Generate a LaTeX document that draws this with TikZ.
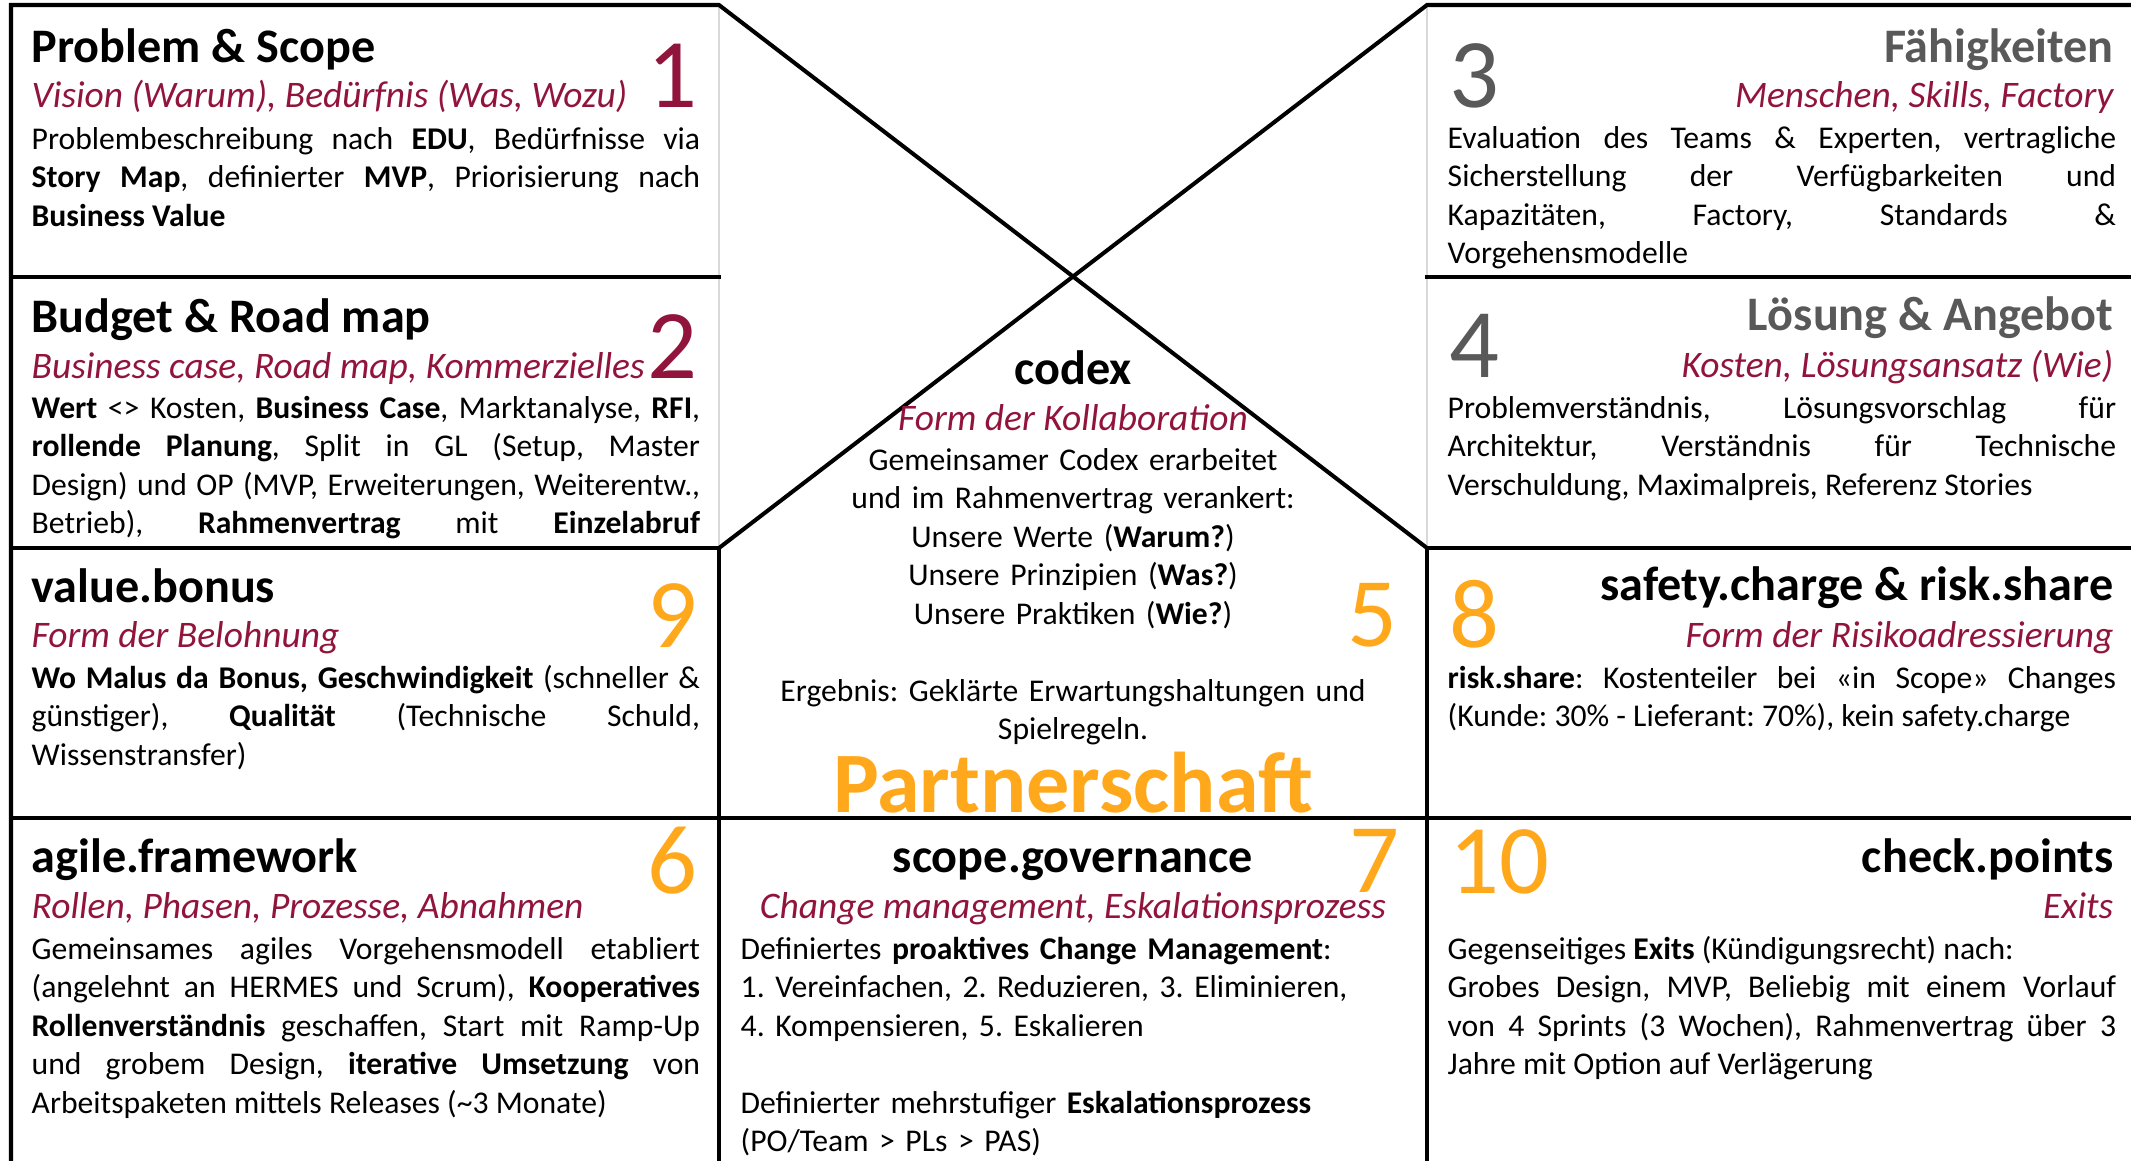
\documentclass[tikz,border=0pt]{standalone}
\usepackage{fontspec}
\setmainfont{Carlito}
\usetikzlibrary{positioning}
\definecolor{wine}{RGB}{145,20,60}
\definecolor{amber}{RGB}{255,168,28}
\definecolor{slate}{RGB}{89,89,89}
\frenchspacing

\begin{document}
\begin{tikzpicture}[
      x=0.01cm, y=-0.01cm,
      frame/.style = {line width=1.15pt, line cap=rect},
      hair/.style = {draw=black!15, line width=0.4pt},
      ttl/.style = {inner sep=0, font=\fontsize{13.7}{16}\selectfont\bfseries},
      sub/.style = {inner sep=0, text=wine, font=\fontsize{10.65}{13}\selectfont\itshape},
      txt/.style = {inner sep=0, text width=6.68cm, align=justify,
          font=\fontsize{9}{10.95}\selectfont},
      num/.style = {inner sep=0, font=\fontsize{28}{30}\selectfont},
    ]
    \useasboundingbox (0,0) rectangle (2131,1160);

    % grid
    \draw[hair] (719,5) -- (719,548);
    \draw[hair] (1427,5) -- (1427,548);
    \draw[frame] (11,1160) -- (11,5) -- (719,5) -- (1427,548);
    \draw[frame] (2131,5) -- (1427,5) -- (719,548);
    \draw[frame] (11,277) -- (719,277);
    \draw[frame] (1427,277) -- (2131,277);
    \draw[frame] (11,548) -- (719,548);
    \draw[frame] (1427,548) -- (2131,548);
    \draw[frame] (11,818) -- (2131,818);
    \draw[frame] (719,548) -- (719,1160);
    \draw[frame] (1427,548) -- (1427,1160);

    % left column
    \node[ttl, anchor=base west] (scope) at (31,62) {Problem \& Scope};
    \node[sub, anchor=base west] (scopesub) at (31,107) {Vision (Warum), Bedürfnis (Was, Wozu)};
    \node[num, text=wine, anchor=base east] (n1) at (698,107) {1};
    \node[txt, anchor=base west] (scopetxt) at (31,149) {%
      Problembeschreibung nach \textbf{EDU}, Bedürfnisse via\linebreak
      \textbf{Story Map}, definierter \textbf{MVP}, Priorisierung nach\linebreak
      \textbf{Business Value}};

    \node[ttl, anchor=base west] (budget) at (31,332) {Budget \& Road map};
    \node[sub, anchor=base west] (budgetsub) at (31,378) {Business case, Road map, Kommerzielles};
    \node[num, text=wine, anchor=base east] (n2) at (698,378) {2};
    \node[txt, anchor=base west] (budgettxt) at (31,418) {%
      \textbf{Wert} <> Kosten, \textbf{Business Case}, Marktanalyse, \textbf{RFI},\linebreak
      \textbf{rollende Planung}, Split in GL (Setup, Master\linebreak
      Design) und OP (MVP, Erweiterungen, Weiterentw.,\linebreak
      Betrieb), \textbf{Rahmenvertrag} mit \textbf{Einzelabruf}\linebreak\null};

    \node[ttl, anchor=base west] (bonus) at (31,602) {value.bonus};
    \node[sub, anchor=base west] (bonussub) at (31,647) {Form der Belohnung};
    \node[num, text=amber, anchor=base east] (n9) at (698,647) {9};
    \node[txt, anchor=base west] (bonustxt) at (31,688) {%
      \textbf{Wo Malus da Bonus, Geschwindigkeit} (schneller \&\linebreak
      günstiger), \textbf{Qualität} (Technische Schuld,\linebreak
      Wissenstransfer)};

    \node[ttl, anchor=base west] (agile) at (31,872) {agile.framework};
    \node[sub, anchor=base west] (agilesub) at (31,918) {Rollen, Phasen, Prozesse, Abnahmen};
    \node[num, text=amber, anchor=base east] (n6) at (698,893) {6};
    \node[txt, anchor=base west] (agiletxt) at (31,959) {%
      Gemeinsames agiles Vorgehensmodell etabliert\linebreak
      (angelehnt an HERMES und Scrum), \textbf{Kooperatives}\linebreak
      \textbf{Rollenverständnis} geschaffen, Start mit Ramp-Up\linebreak
      und grobem Design, \textbf{iterative Umsetzung} von\linebreak
      Arbeitspaketen mittels Releases (\textasciitilde3 Monate)};

    % middle column
    \node[ttl, anchor=base] (codex) at (1073,384) {codex};
    \node[sub, anchor=base] (codexsub) at (1073,430) {Form der Kollaboration};
    \node[txt, align=center, anchor=base] (codextxt) at (1073,470) {%
      Gemeinsamer Codex erarbeitet\\
      und im Rahmenvertrag verankert:\\
      Unsere Werte (\textbf{Warum?})\\
      Unsere Prinzipien (\textbf{Was?})\\
      Unsere Praktiken (\textbf{Wie?})\\[10.95pt]
      Ergebnis: Geklärte Erwartungshaltungen und\\
      Spielregeln.};
    \node[num, text=amber, anchor=base east] (n5) at (1398,646) {5};
    \node[inner sep=0, text=amber, font=\fontsize{24.5}{28}\selectfont\bfseries,
      anchor=base] (partner) at (1073,812) {Partnerschaft};

    \node[ttl, anchor=base] (gov) at (1073,872) {scope.governance};
    \node[sub, anchor=base] (govsub) at (1073,918) {Change management, Eskalationsprozess};
    \node[num, text=amber, anchor=base east] (n7) at (1400,892) {7};
    \node[txt, align=left, anchor=base west] (govtxt) at (740,959) {%
      Definiertes \textbf{proaktives Change Management}:\\
      1. Vereinfachen, 2. Reduzieren, 3. Eliminieren,\\
      4. Kompensieren, 5. Eskalieren\\[10.95pt]
      Definierter mehrstufiger \textbf{Eskalationsprozess}\\
      (PO/Team > PLs > PAS)};

    % right column
    \node[ttl, text=slate, anchor=base east] (skills) at (2114,62) {Fähigkeiten};
    \node[sub, anchor=base east] (skillssub) at (2114,107) {Menschen, Skills, Factory};
    \node[num, text=slate, anchor=base west] (n3) at (1449,107) {3};
    \node[txt, anchor=base west] (skillstxt) at (1447,148) {%
      Evaluation des Teams \& Experten, vertragliche\linebreak
      Sicherstellung der Verfügbarkeiten und\linebreak
      Kapazitäten, Factory, Standards \&\linebreak
      Vorgehensmodelle};

    \node[ttl, text=slate, anchor=base east] (offer) at (2114,330) {Lösung \& Angebot};
    \node[sub, anchor=base east] (offersub) at (2114,377) {Kosten, Lösungsansatz (Wie)};
    \node[num, text=slate, anchor=base west] (n4) at (1449,377) {4};
    \node[txt, anchor=base west] (offertxt) at (1447,418) {%
      Problemverständnis, Lösungsvorschlag für\linebreak
      Architektur, Verständnis für Technische\linebreak
      Verschuldung, Maximalpreis, Referenz Stories};

    \node[ttl, anchor=base east] (risk) at (2114,600) {safety.charge \& risk.share};
    \node[sub, anchor=base east] (risksub) at (2114,647) {Form der Risikoadressierung};
    \node[num, text=amber, anchor=base west] (n8) at (1449,647) {8};
    \node[txt, anchor=base west] (risktxt) at (1447,688) {%
      \textbf{risk.share}: Kostenteiler bei «in Scope» Changes\linebreak
      (Kunde: 30\% - Lieferant: 70\%), kein safety.charge};

    \node[ttl, anchor=base east] (check) at (2114,872) {check.points};
    \node[sub, anchor=base east] (checksub) at (2114,918) {Exits};
    \node[num, text=amber, anchor=base west] (n10) at (1449,893) {10};
    \node[txt, anchor=base west] (checktxt) at (1447,959) {%
      Gegenseitiges \textbf{Exits} (Kündigungsrecht) nach:\hfill\null\linebreak
      Grobes Design, MVP, Beliebig mit einem Vorlauf\linebreak
      von 4 Sprints (3 Wochen), Rahmenvertrag über 3\linebreak
      Jahre mit Option auf Verlägerung};

  \end{tikzpicture}
\end{document}
